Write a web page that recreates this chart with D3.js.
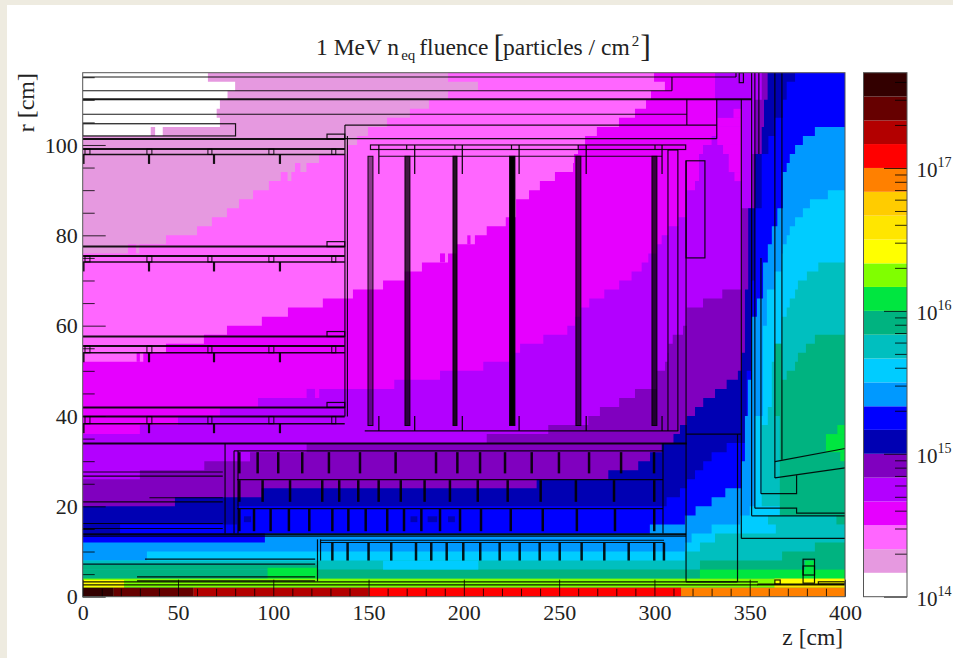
<!DOCTYPE html>
<html>
<head>
<meta charset="utf-8">
<title>1 MeV neq fluence</title>
<script src="https://cdn.jsdelivr.net/npm/d3@7"></script>
<style>
html, body { margin: 0; padding: 0; background: #fff; overflow: hidden; }
svg { display: block; }
text { font-family: "Liberation Serif", serif; fill: #222; }
</style>
</head>
<body>
<div id="chart"></div>
<script>
'use strict';

// colour levels of the palette, lowest first, one colour per interval
const levels = [1e14, 1.47e14, 2.15e14, 3.16e14, 4.64e14, 6.81e14,
    1e15, 1.47e15, 2.15e15, 3.16e15, 4.64e15, 6.81e15,
    1e16, 1.47e16, 2.15e16, 3.16e16, 4.64e16, 6.81e16,
    1e17, 1.47e17, 2.15e17, 3.16e17, 4.64e17];
const bandColors = ['#ffffff', '#e699e0', '#ff66ff', '#e600ff', '#b300ff', '#8000bf',
    '#0000b3', '#0000ff', '#0099ff', '#00ccff', '#00bfbf', '#00b380',
    '#00e640', '#80ff00', '#ffff00', '#ffe600', '#ffcc00', '#ff8000',
    '#ff0000', '#b30000', '#660000', '#330000'];

// region outlines: [z, r] in cm, stepped along r bins
const outlineBand1 = [[65.7, 116], [80, 114], [76, 112], [72, 110], [70.3, 108], [72, 106], [35.7, 104], [0, 102], [0, 0], [400, 0], [400, 116]];
const outlineBand2 = [[191.7, 116], [207.4, 114], [191.7, 112], [181.7, 110], [171.7, 108], [159.7, 106], [149.7, 104], [144, 102], [138.7, 100], [124, 98], [117.4, 96], [109.5, 94], [97.7, 92], [89.4, 90], [82, 88], [75.7, 86], [67.8, 84], [60, 82], [43.7, 80], [23.8, 78], [0, 76], [0, 0], [400, 0], [400, 116]];
const outlineBand3 = [[299.8, 116], [305.5, 114], [298.2, 112], [295.6, 110], [289.8, 108], [281.4, 106], [269.8, 104], [263.6, 102], [259.9, 100], [257.8, 98], [257.3, 96], [247.8, 94], [239.9, 92], [234.2, 90], [227.4, 88], [227.4, 86], [222, 84], [212, 82], [205.8, 80], [196.4, 78], [191.7, 76], [178, 74], [169, 72], [157.6, 70], [141.8, 68], [126, 66], [107.7, 64], [94, 62], [75.7, 60], [63.6, 58], [43.7, 56], [31.8, 54], [0, 52], [0, 0], [400, 0], [400, 116]];
const outlineBand4 = [[331.8, 116], [332.7, 110], [330, 102], [325.5, 100], [323.4, 98], [321.3, 92], [317, 90], [312.5, 84], [307.3, 82], [303.8, 80], [301.2, 78], [296.8, 76], [293.3, 74], [288, 72], [281.5, 70], [273.7, 68], [265.8, 66], [261.3, 64], [258.3, 62], [254.3, 60], [241.7, 58], [229.5, 56], [224.2, 54], [210.2, 52], [187.5, 50], [163.5, 48], [124.1, 46], [92, 44], [72, 42], [50, 40], [30, 38], [0, 36], [0, 0], [400, 0], [400, 116]];
const outlineBand5 = [[356.3, 116], [352.7, 110], [351, 98], [345.7, 86], [335.6, 68], [325.5, 66], [317, 64], [315, 60], [309.6, 58], [307.3, 56], [307, 54], [305.6, 52], [301.2, 50], [289.8, 46], [281.5, 44], [271.4, 42], [265.3, 40], [244.3, 38], [212, 36], [117.5, 34], [87.8, 32], [63.8, 30], [30, 28], [0, 26], [0, 0], [400, 0], [400, 116]];
const outlineBand6 = [[359.4, 116], [357.5, 110], [356.3, 104], [352.7, 98], [349.2, 86], [347.5, 68], [345.7, 54], [343.8, 50], [337.9, 48], [331.8, 46], [325.6, 44], [321.3, 42], [317, 40], [313.4, 38], [310, 36], [303.8, 34], [297.7, 32], [291.5, 30], [275.8, 28], [238.2, 26], [93.9, 24], [48.4, 22], [0, 20], [0, 0], [400, 0], [400, 116]];
const outlineBand7 = [[373.8, 116], [369.4, 114], [367.4, 110], [363.2, 106], [359.8, 102], [356.3, 98], [352.7, 86], [351, 70], [348.4, 50], [337.9, 34], [330, 32], [325.6, 30], [321.3, 28], [317, 26], [313.4, 24], [306.4, 22], [81, 20], [19.6, 16], [0, 14], [0, 0], [400, 0], [400, 116]];
const outlineBand8 = [[384.2, 104], [377.9, 102], [373.8, 100], [371, 98], [369.4, 96], [367.4, 94], [364.5, 86], [361.6, 82], [359.5, 78], [357, 74], [353.8, 66], [351, 62], [349, 48], [347.5, 40], [345.7, 30], [337.2, 24], [330, 22], [321.6, 20], [316, 18], [297.6, 16], [95.6, 14], [0, 12], [0, 0], [400, 0], [400, 104]];
const outlineBand9 = [[391, 90], [381.6, 88], [377.9, 86], [373.8, 84], [371, 82], [369.4, 80], [367.4, 78], [366.8, 76], [363.2, 72], [359, 68], [356.9, 60], [352.7, 40], [350, 20], [345, 18], [330, 16], [319.5, 14], [316, 12], [33.7, 10], [0, 8], [0, 0], [400, 0], [400, 90]];
const outlineBand10 = [[386, 74], [380, 72], [375.3, 70], [373.8, 68], [371, 66], [369.4, 64], [366.8, 62], [363.2, 56], [361.6, 52], [359.5, 42], [356.3, 38], [367, 20], [359.6, 18], [363.7, 16], [331.8, 14], [323.9, 12], [316, 10], [0, 8], [0, 0], [400, 0], [400, 74]];
const outlineBand11 = [[384.2, 58], [379.5, 56], [375.3, 54], [373.8, 52], [369.4, 50], [365.8, 48], [365.8, 18], [400, 18], [400, 58]];
const outlineBand11Low = [[384.2, 12], [367, 10], [323.9, 8], [0, 6], [0, 0], [400, 0], [400, 12]];

const outlines = [
    [1, outlineBand1], [2, outlineBand2], [3, outlineBand3], [4, outlineBand4],
    [5, outlineBand5], [6, outlineBand6], [7, outlineBand7], [8, outlineBand8],
    [9, outlineBand9], [10, outlineBand10], [11, outlineBand11], [11, outlineBand11Low]
];

// small patches laid on top: [band, z0, r0, z1, r1]
const patches = [
    [0, 38, 102, 42, 104],
    [2, 111.4, 94, 114.2, 96], [2, 103.9, 92, 107.5, 94], [1, 28, 76, 29.7, 78],
    [3, 28.3, 52, 30, 54], [3, 201.8, 78, 203.5, 80], [3, 187.5, 74, 190.1, 76],
    [4, 117.5, 44, 121.9, 46],
    // magenta lobe in front of the end-cap calorimeter
    [3, 341.5, 106, 345.7, 108], [3, 333, 104, 345.7, 106], [3, 333, 100, 345.7, 104],
    [3, 336, 98, 345.7, 100], [3, 339, 94, 345.7, 98], [3, 342, 92, 345.7, 94],
    // teal-green ribbon and spots inside the strip layers
    [11, 363.2, 40, 366.8, 56],
    [4, 82.5, 30, 87.8, 32], [6, 84.6, 16.5, 88.3, 17.8], [6, 172, 16.5, 175.6, 17.8],
    [6, 181, 16.5, 186, 17.8], [6, 191.7, 16.5, 195.3, 17.8],
    [9, 157.6, 6, 207.6, 8], [11, 0, 6, 123, 7], [11, 395.5, 16, 400, 18],
    [12, 97, 4, 123, 6.4], [12, 323.9, 4, 400, 6],
    [12, 390, 32, 400, 36], [12, 396, 36, 400, 38], [12, 397.5, 30, 400, 32],
    [12, 379, 5, 383.7, 8],
    [13, 0, 2, 400, 4], [14, 0, 2, 21.7, 3.7], [14, 363, 2.6, 400, 4], [15, 363, 2, 400, 2.6],
    [21, 0, 0, 16, 2], [20, 16, 0, 58, 2], [19, 58, 0, 150, 2],
    [18, 150, 0, 314, 2], [17, 314, 0, 400, 2]
];

// axis ticks
const zMajor = [0, 50, 100, 150, 200, 250, 300, 350, 400];
const zMinor = [10, 20, 30, 40, 60, 70, 80, 90, 110, 120, 130, 140, 160, 170, 180, 190, 210, 220, 230, 240, 260, 270, 280, 290, 310, 320, 330, 340, 360, 370, 380, 390];
const rMajor = [0, 20, 40, 60, 80, 100];
const rMinor = [5, 10, 15, 25, 30, 35, 45, 50, 55, 65, 70, 75, 85, 90, 95, 105, 110, 115];
const cMajor = [1e14, 1e15, 1e16, 1e17];
const cMinor = [2e14, 3e14, 4e14, 5e14, 6e14, 7e14, 8e14, 9e14, 2e15, 3e15, 4e15, 5e15, 6e15, 7e15, 8e15, 9e15,
    2e16, 3e16, 4e16, 5e16, 6e16, 7e16, 8e16, 9e16, 2e17, 3e17, 4e17];

// detector outline: long horizontal lines [r, z0, z1]
const hLines = [
    [115.05, 0, 342.8], [112, 0, 309.2], [106.8, 0, 317], [104.4, 137.6, 332.7], [101.4, 137.6, 332.7],
    [97.5, 155.5, 304], [36.7, 148, 312.5], [98.9, 307.1, 312.3], [12.9, 345.6, 400], [17.9, 351, 400],
    [25.9, 81, 304.5], [19.5, 81, 304.5], [32.3, 79.4, 304.5], [13.4, 0, 316.6], [12.5, 124.8, 305], [12, 124.8, 305],
    [27.6, 0, 73.5], [26.7, 0, 73.5], [21.9, 35, 73.5], [21, 0, 73.5], [16.2, 0, 73.5], [15.1, 0, 73.5],
    [8.3, 32.7, 122], [7.2, 0, 122], [4.4, 28.5, 122], [3.5, 28.5, 122],
    [3.3, 0, 354.3], [2.6, 0, 354.3], [36, 316.6, 345.6], [3.3, 316.6, 343.6]
];
const hLinesHeavy = [
    [110.1, 0, 351], [101.3, 0, 137.5], [99.1, 0, 137.5], [77.5, 0, 137.5], [75.4, 0, 137.5],
    [57.6, 0, 137.5], [55.5, 0, 137.5], [41.9, 0, 137.5], [39.9, 0, 137.5], [33.9, 0, 317],
    [13.8, 0, 316.6], [2.7, 354, 400]
];
const hLinesLight = [[97.9, 0, 137.5], [74.1, 0, 137.5], [54, 0, 137.5], [38.3, 0, 137.5]];

// vertical lines [z, r0, r1]
const vLines = [
    [309.2, 112, 115.05], [342.8, 115.05, 116], [317, 104.4, 110.1], [332.7, 101.4, 110.1],
    [345.6, 36, 110.1], [343.6, 3.3, 36], [345.6, 12.9, 36], [351, 17.9, 116], [352.7, 19.6, 116],
    [354.8, 98, 116], [355.9, 22.8, 75], [363.2, 26.3, 116], [366.9, 30.3, 116],
    [312.3, 36.7, 98.9], [307.1, 36.7, 98.9], [316.6, 3.3, 96.5],
    [170, 99, 100], [195.3, 99, 100], [225, 99, 100], [260, 99, 100], [300.3, 99, 100],
    [74.7, 14, 33.9], [79.4, 14, 32.3], [81.5, 14, 32.3], [304.5, 14, 34],
    [123.2, 3.4, 12.7], [124.8, 8, 12.7], [137.6, 39.9, 104.4], [138.9, 39.9, 102]
];

// slanted and bent parts of the end-cap shielding, [z, r] vertices
const bentLines = [
    [[363.2, 29.9], [400, 32.8]],
    [[363.2, 26.3], [400, 28.5]],
    [[355.9, 22.8], [374.6, 22.8], [374.6, 26.9]],
    [[352.7, 19.6], [374.6, 19.6], [374.6, 18.5], [400, 18.5]]
];

// closed boxes [z0, r0, z1, r1]
const boxes = [
    [0, 102, 80.2, 104.7], [316.6, 75, 326.5, 96.5], [151, 99, 316.4, 100],
    [363.2, 2.8, 366, 3.7], [378, 3, 384, 8.3], [378, 4.8, 384, 6.8], [386, 2.8, 400, 3.3],
    [344.5, 113.8, 346.7, 116]
];

// the four barrel shells: ladder rings and hanging supports
const shellLow = [97.9, 74.1, 54, 38.3];
const shellMid = [99.1, 75.4, 55.5, 39.9];
const shellTop = [101.3, 77.5, 57.6, 41.9];
const shellRings = [[1.2, 3.8], [33.7, 36.3], [65.7, 67.8], [97.7, 100.3], [130.7, 132.8]];
const shellHangers = [0.4, 34.8, 68.9, 103.5];

// end-cap disks [z0, z1]
const disks = [[149.7, 152.3], [169.1, 171.7], [194.3, 196.4], [224, 226.8], [258.8, 261.4], [298.7, 301.3]];
const diskShade = [0.45, 0.75, 0.85, 1, 0.7, 0.75];
const diskR = [37.9, 97.5];
const diskHangers = [155.4, 174.2, 199.2, 229, 264.2, 304];

// tick marks of the strip layers, each row has its own r range
const stripRow1 = [82.2, 91.8, 102.6, 115.2, 129.2, 145.5, 164.2, 185.4, 196.6, 208.5, 221.6, 235.6, 249.9, 265.7, 282.5, 299.8];
const stripRow2 = [82.2, 94.4, 108.8, 125.7, 134.6, 144.6, 155.3, 166.9, 179.4, 192.7, 207.3, 223, 240.3, 258.8, 278.8, 299.9];
const stripRow3 = [82.2, 89.9, 98.6, 108.2, 118.9, 131, 139.4, 148.5, 159.8, 168.6, 177.7, 187.5, 198, 209, 224.6, 241.4, 259.3, 279.3, 299.9];
const stripRow4 = [131, 139, 150, 161.9, 174.9, 182.9, 191, 199.7, 208.6, 218.8, 229.3, 239.8, 250.3, 261.8, 273.7, 286.5, 299.9, 305];

const width = 953;
const height = 658;
const plot = { left: 82.7, right: 845, top: 72.7, bottom: 596.7 };
const bar = { left: 863.5, right: 907 };

const x = d3.scaleLinear().domain([0, 400]).range([plot.left, plot.right]);
const y = d3.scaleLinear().domain([0, 116]).range([plot.bottom, plot.top]);
const c = d3.scaleLog().domain([1e14, 4.64e17]).range([plot.bottom, plot.top]);

const svg = d3.select('#chart').append('svg').attr('width', width).attr('height', height);

// cream page border
svg.append('rect').attr('width', width).attr('height', height).attr('fill', '#eeebe0');
svg.append('rect').attr('x', 7).attr('y', 5).attr('width', width - 7).attr('height', height - 5).attr('fill', '#fff');

const clipId = 'plot-clip';
svg.append('clipPath').attr('id', clipId).append('rect')
    .attr('x', plot.left).attr('y', plot.top)
    .attr('width', plot.right - plot.left).attr('height', plot.bottom - plot.top);

const map = svg.append('g').attr('clip-path', `url(#${clipId})`).style('filter', 'blur(0.3px)');

// heat map, painted from the lowest level up
const outlinePath = d3.line().x(d => x(d[0])).y(d => y(d[1])).curve(d3.curveStepBefore);
map.append('rect').attr('x', plot.left).attr('y', plot.top)
    .attr('width', plot.right - plot.left).attr('height', plot.bottom - plot.top)
    .attr('fill', bandColors[0]);
map.selectAll('.region').data(outlines).enter().append('path')
    .attr('class', 'region')
    .attr('d', d => outlinePath(d[1]) + 'Z')
    .attr('fill', d => bandColors[d[0]]);
map.selectAll('.patch').data(patches).enter().append('rect')
    .attr('class', 'patch')
    .attr('x', d => x(d[1])).attr('y', d => y(d[4]))
    .attr('width', d => x(d[3]) - x(d[1]))
    .attr('height', d => y(d[2]) - y(d[4]))
    .attr('fill', d => bandColors[d[0]]);

// detector outline on top
const geo = map.append('g').attr('fill', 'none').attr('stroke', '#000').attr('stroke-opacity', 0.9);

const segment = function(sel, z0, r0, z1, r1, w) {
    sel.append('line').attr('x1', x(z0)).attr('y1', y(r0)).attr('x2', x(z1)).attr('y2', y(r1)).attr('stroke-width', w);
};
hLines.forEach(d => segment(geo, d[1], d[0], d[2], d[0], 1.2));
hLinesHeavy.forEach(d => segment(geo, d[1], d[0], d[2], d[0], 2));
hLinesLight.forEach(d => segment(geo, d[1], d[0], d[2], d[0], 1.4));
vLines.forEach(d => segment(geo, d[0], d[1], d[0], d[2], 1.2));

const bentPath = d3.line().x(d => x(d[0])).y(d => y(d[1]));
bentLines.forEach(d => geo.append('path').attr('d', bentPath(d)).attr('stroke-width', 1.2));

const box = function(z0, r0, z1, r1, w) {
    geo.append('rect').attr('x', x(z0)).attr('y', y(r1))
        .attr('width', x(z1) - x(z0)).attr('height', y(r0) - y(r1)).attr('stroke-width', w);
};
boxes.forEach(d => box(d[0], d[1], d[2], d[3], 1.2));

shellLow.forEach(function(low, i) {
    shellRings.forEach(d => box(d[0], low, d[1], shellMid[i], 1));
    shellHangers.forEach(z => segment(geo, z, low, z, low - 2.1, 2.2));
    box(128.2, shellTop[i], 137.5, shellTop[i] + 1.1, 1.2);
});

disks.forEach(function(d, i) {
    geo.append('rect').attr('x', x(d[0])).attr('y', y(diskR[1]))
        .attr('width', x(d[1]) - x(d[0])).attr('height', y(diskR[0]) - y(diskR[1]))
        .attr('fill', '#000').attr('fill-opacity', diskShade[i]).attr('stroke-width', 1);
});
diskHangers.forEach(function(z) {
    segment(geo, z, 100, z, 93.6, 1.3);
    segment(geo, z, 40, z, 36.7, 1.3);
});

stripRow1.forEach(z => segment(geo, z, 32, z, 27.3, 2.5));
stripRow2.forEach(z => segment(geo, z, 25.8, z, 21, 2.5));
stripRow3.forEach(z => segment(geo, z, 19.4, z, 14.5, 2.5));
stripRow4.forEach(z => segment(geo, z, 12, z, 8, 2.5));

// axes, ticks inside the frame as in ROOT
const tickStyle = function(g) {
    g.select('.domain').remove();
    g.selectAll('.tick line').attr('stroke', '#000').attr('stroke-opacity', 0.8);
    g.selectAll('text').attr('font-size', 22);
};

svg.append('g').attr('transform', `translate(0,${plot.bottom})`)
    .call(d3.axisBottom(x).tickValues(zMajor).tickSize(-17).tickSizeOuter(0).tickPadding(8).tickFormat(d3.format('d')))
    .call(tickStyle);
svg.append('g').attr('transform', `translate(0,${plot.bottom})`)
    .call(d3.axisBottom(x).tickValues(zMinor).tickSize(-8).tickSizeOuter(0).tickFormat(''))
    .call(tickStyle);
svg.append('g').attr('transform', `translate(${plot.left},0)`)
    .call(d3.axisLeft(y).tickValues(rMajor).tickSize(-23).tickSizeOuter(0).tickPadding(5).tickFormat(d3.format('d')))
    .call(tickStyle);
svg.append('g').attr('transform', `translate(${plot.left},0)`)
    .call(d3.axisLeft(y).tickValues(rMinor).tickSize(-12).tickSizeOuter(0).tickFormat(''))
    .call(tickStyle);

svg.append('rect').attr('x', plot.left).attr('y', plot.top)
    .attr('width', plot.right - plot.left).attr('height', plot.bottom - plot.top)
    .attr('fill', 'none').attr('stroke', '#555').attr('stroke-width', 1);

// palette
const palette = svg.append('g');
palette.selectAll('rect').data(bandColors).enter().append('rect')
    .attr('x', bar.left).attr('width', bar.right - bar.left)
    .attr('y', (d, i) => c(levels[i + 1]))
    .attr('height', (d, i) => c(levels[i]) - c(levels[i + 1]))
    .attr('fill', d => d);
svg.append('g').attr('transform', `translate(${bar.right},0)`)
    .call(d3.axisRight(c).tickValues(cMinor).tickSize(-12).tickSizeOuter(0).tickFormat(''))
    .call(tickStyle);
svg.append('g').attr('transform', `translate(${bar.right},0)`)
    .call(d3.axisRight(c).tickValues(cMajor).tickSize(-23).tickSizeOuter(0).tickFormat(''))
    .call(tickStyle);
svg.append('rect').attr('x', bar.left).attr('y', plot.top)
    .attr('width', bar.right - bar.left).attr('height', plot.bottom - plot.top)
    .attr('fill', 'none').attr('stroke', '#555').attr('stroke-width', 1);

const powerLabels = palette.selectAll('.power').data(cMajor).enter().append('text')
    .attr('class', 'power')
    .attr('x', 916.5)
    .attr('y', d => c(d) + 9)
    .attr('font-size', 21);
powerLabels.append('tspan').text('10');
powerLabels.append('tspan').attr('dy', -10).attr('font-size', 14)
    .text(d => Math.round(Math.log10(d)));

// axis titles
svg.append('text').attr('x', 843).attr('y', 645).attr('text-anchor', 'end')
    .attr('font-size', 23.5).text('z [cm]');
svg.append('text').attr('transform', 'translate(34,73) rotate(-90)').attr('text-anchor', 'end')
    .attr('font-size', 24).text('r [cm]');

// title with subscript, superscript and tall brackets
const title = svg.append('text').attr('x', 316).attr('y', 55).attr('font-size', 23.5);
title.append('tspan').text('1 MeV n');
title.append('tspan').attr('dx', 2).attr('dy', 5).attr('font-size', 15).text('eq');
title.append('tspan').attr('dx', 4).attr('dy', -5).text('fluence');
title.append('tspan').attr('dx', 5).attr('dy', 2).attr('font-size', 32).text('[');
title.append('tspan').attr('dx', -1).attr('dy', -2).text('particles / cm');
title.append('tspan').attr('dx', 2).attr('dy', -9).attr('font-size', 15).text('2');
title.append('tspan').attr('dx', 1).attr('dy', 11).attr('font-size', 32).text(']');
</script>
</body>
</html>
